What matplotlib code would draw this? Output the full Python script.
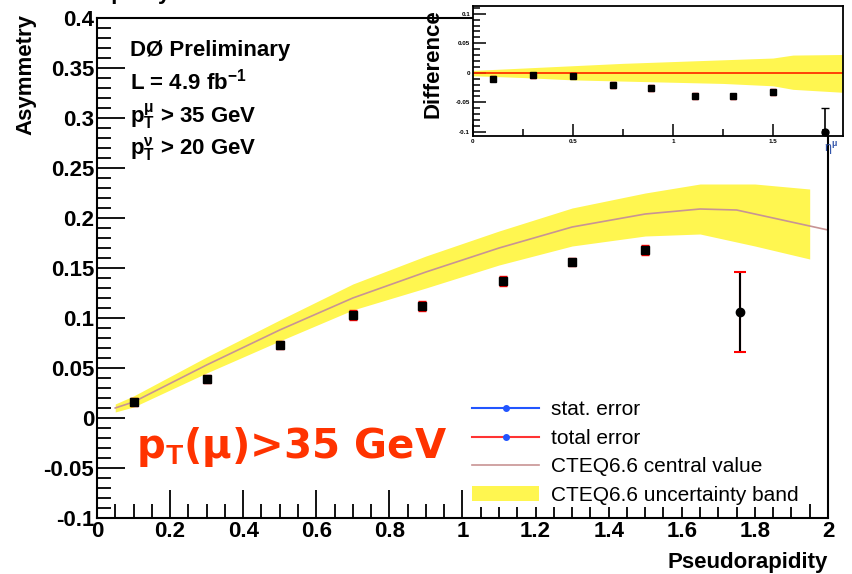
import numpy as np
import matplotlib
matplotlib.use("Agg")
from matplotlib import pyplot as plt
from matplotlib.ticker import MultipleLocator
from matplotlib.lines import Line2D
from matplotlib.patches import Patch

# measured points (asymmetry vs muon pseudorapidity)
eta = [0.1, 0.3, 0.5, 0.7, 0.89, 1.11, 1.3, 1.5, 1.76]
asym = [0.016, 0.039, 0.073, 0.103, 0.112, 0.137, 0.156, 0.168, 0.106]
err_stat = [0.003, 0.003, 0.003, 0.003, 0.004, 0.004, 0.003, 0.004, 0.039]
err_tot = [0.004, 0.004, 0.004, 0.005, 0.005, 0.005, 0.004, 0.005, 0.040]

# CTEQ6.6 prediction
cteq_eta = [0.05, 0.1, 0.3, 0.5, 0.7, 0.9, 1.1, 1.3, 1.5, 1.65, 1.75, 2.0]
cteq_val = [0.010, 0.016, 0.053, 0.088, 0.120, 0.146, 0.170, 0.191, 0.204, 0.209, 0.208, 0.188]
band_eta = [0.05, 0.1, 0.3, 0.5, 0.7, 0.9, 1.1, 1.3, 1.5, 1.65, 1.8, 1.95]
band_hi = [0.014, 0.022, 0.061, 0.098, 0.134, 0.162, 0.187, 0.210, 0.225, 0.234, 0.234, 0.229]
band_lo = [0.006, 0.011, 0.045, 0.077, 0.108, 0.130, 0.153, 0.172, 0.182, 0.184, 0.172, 0.159]

# inset: data - CTEQ
diff = [-0.010, -0.004, -0.005, -0.021, -0.026, -0.039, -0.040, -0.032, -0.100]
ins_band_eta = [0.0, 0.25, 0.5, 0.75, 1.0, 1.25, 1.5, 1.6, 1.85]
ins_band_hi = [0.004, 0.008, 0.012, 0.016, 0.019, 0.022, 0.025, 0.030, 0.031]
ins_band_lo = [-0.005, -0.008, -0.012, -0.014, -0.016, -0.018, -0.022, -0.028, -0.033]

plt.rcParams["font.family"] = ["Liberation Sans", "DejaVu Sans"]
plt.rcParams["mathtext.fontset"] = "custom"
plt.rcParams["mathtext.rm"] = "Liberation Sans:bold"
plt.rcParams["mathtext.it"] = "Liberation Sans:bold"
plt.rcParams["mathtext.bf"] = "Liberation Sans:bold"

YELLOW = "#fff650"
LINE = "#c89494"

fig = plt.figure(figsize=(8.52, 5.74), dpi=100)
ax = fig.add_axes([0.1138, 0.0976, 0.858, 0.871])

ax.fill_between(band_eta, band_lo, band_hi, color=YELLOW, lw=0, zorder=1)
ax.plot(cteq_eta, cteq_val, color=LINE, lw=1.2, zorder=2)

ax.errorbar(eta[:-1], asym[:-1], yerr=err_tot[:-1], fmt="none", ecolor="red",
            capsize=3, elinewidth=1.5, zorder=3)
ax.errorbar(eta[:-1], asym[:-1], yerr=err_stat[:-1], fmt="s", color="black",
            ms=6, elinewidth=2, capsize=0, zorder=4)
ax.errorbar(eta[-1:], asym[-1:], yerr=err_tot[-1:], fmt="none", ecolor="red",
            capsize=4, capthick=1.5, elinewidth=1.5, zorder=3)
ax.errorbar(eta[-1:], asym[-1:], yerr=err_stat[-1:], fmt="o", color="black",
            ms=6, elinewidth=1.5, capsize=0, zorder=4)

ax.set_xlim(0, 2)
ax.set_ylim(-0.1, 0.4)
ax.xaxis.set_minor_locator(MultipleLocator(0.05))
ax.yaxis.set_minor_locator(MultipleLocator(0.01))
ax.tick_params(which="both", direction="in", top=False, right=False, width=1.3)
ax.tick_params(which="major", length=20)
ax.tick_params(which="minor", length=10)
ax.tick_params(axis="both", labelsize=16, pad=2)
ax.set_xticks(np.arange(0, 2.01, 0.2))
ax.set_xticklabels(["0", "0.2", "0.4", "0.6", "0.8", "1", "1.2", "1.4", "1.6", "1.8", "2"],
                   fontweight="bold")
ax.set_yticks(np.arange(-0.1, 0.401, 0.05))
ax.set_yticklabels(["-0.1", "-0.05", "0", "0.05", "0.1", "0.15", "0.2", "0.25", "0.3",
                    "0.35", "0.4"], fontweight="bold")
for s in ax.spines.values():
    s.set_linewidth(1.5)

fig.text(0.9718, 0.02, "Pseudorapidity", ha="right", va="center",
         fontsize=16, fontweight="bold")
fig.text(0.03, 0.975, "Asymmetry", ha="center", va="top", rotation=90,
         fontsize=16, fontweight="bold")
fig.text(0.012, 1.012, "Pseudorapidity", ha="left", va="center",
         fontsize=16, fontweight="bold")

tx = 0.153
fig.text(tx, 0.912, "DØ Preliminary", fontsize=16, fontweight="bold", va="center")
fig.text(tx, 0.858, r"L = 4.9 fb$^{-1}$", fontsize=16, fontweight="bold", va="center")
fig.text(tx, 0.797, r"p$_{\mathrm{T}}^{\mu}$ > 35 GeV", fontsize=16, fontweight="bold",
         va="center")
fig.text(tx, 0.740, r"p$_{\mathrm{T}}^{\nu}$ > 20 GeV", fontsize=16, fontweight="bold",
         va="center")

fig.text(0.16, 0.222, r"p$_{\mathrm{T}}$(μ)>35 GeV", color="#ff3300", fontsize=29,
         fontweight="bold", va="center", family=["DejaVu Sans"])

handles = [
    Line2D([], [], color="#2255ff", lw=1.5, marker="o", ms=4, mfc="#2255ff", mec="#2255ff"),
    Line2D([], [], color="#ff3333", lw=1.5, marker="o", ms=4, mfc="#2255ff", mec="#2255ff"),
    Line2D([], [], color=LINE, lw=1.2),
    Patch(facecolor=YELLOW, edgecolor="none"),
]
labels = ["stat. error", "total error", "CTEQ6.6 central value", "CTEQ6.6 uncertainty band"]
leg = ax.legend(handles, labels, loc="upper left", bbox_to_anchor=(0.552, 0.306),
                bbox_transform=fig.transFigure, frameon=True, fontsize=15,
                handlelength=3.2, handletextpad=0.55, labelspacing=0.45,
                borderpad=0.1, borderaxespad=0)
leg.get_frame().set_edgecolor("none")
leg.get_frame().set_facecolor("white")
leg.get_frame().set_alpha(1)

# inset
ins = fig.add_axes([0.555, 0.763, 0.4344, 0.2265])
ins.fill_between(ins_band_eta, ins_band_lo, ins_band_hi, color=YELLOW, lw=0, zorder=1)
ins.axhline(0, color="#ff3300", lw=1.3, zorder=2)
ins.errorbar(eta[:-1], diff[:-1], yerr=err_tot[:-1], fmt="none", ecolor="red",
             capsize=2, elinewidth=1.2, zorder=3)
ins.errorbar(eta[:-1], diff[:-1], yerr=err_stat[:-1], fmt="s", color="black",
             ms=5, elinewidth=1.5, capsize=0, zorder=4)
ins.errorbar(eta[-1:], diff[-1:], yerr=err_tot[-1:], fmt="o", color="black",
             ms=5, ecolor="black", elinewidth=1.2, capsize=3, zorder=4)
ins.set_xlim(0, 1.85)
ins.set_ylim(-0.107, 0.113)
ins.xaxis.set_minor_locator(MultipleLocator(0.25))
ins.yaxis.set_minor_locator(MultipleLocator(0.01))
ins.tick_params(which="both", direction="in", top=False, right=False, width=1.1,
                labelsize=4.5, pad=2)
ins.tick_params(which="major", length=9)
ins.tick_params(which="minor", length=5)
ins.set_xticks([0, 0.5, 1, 1.5])
ins.set_xticklabels(["0", "0.5", "1", "1.5"], fontweight="bold")
ins.set_yticks([-0.1, -0.05, 0, 0.05, 0.1])
ins.set_yticklabels(["-0.1", "-0.05", "0", "0.05", "0.1"], fontweight="bold")
for s in ins.spines.values():
    s.set_linewidth(1.3)
fig.text(0.508, 0.89, "Difference", rotation=90, ha="center", va="center",
         fontsize=16, fontweight="bold")
fig.text(0.975, 0.756, r"η$^{\mu}$", ha="center", va="top", fontsize=9,
         color="#3355aa")

fig.savefig("out.png", dpi=100)
